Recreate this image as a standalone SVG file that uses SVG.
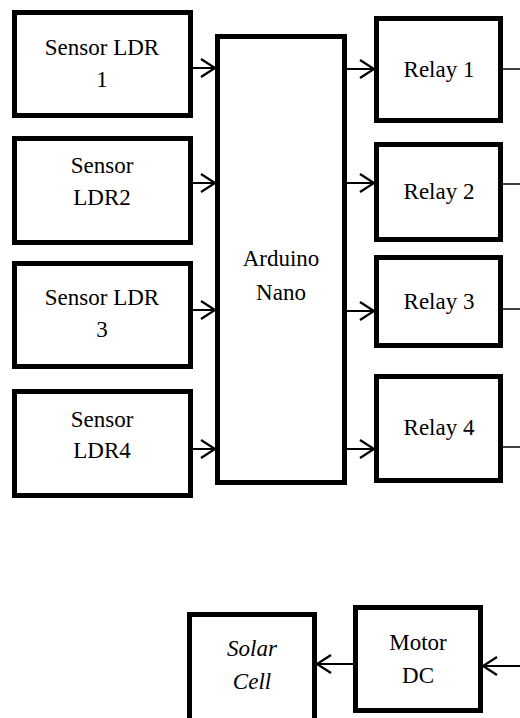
<svg xmlns="http://www.w3.org/2000/svg" width="520" height="718" viewBox="0 0 520 718">
<style>
.box{fill:#fff;stroke:#000;stroke-width:5}
.t{font-family:'Liberation Serif','Times New Roman',serif;font-size:23px;fill:#000;text-anchor:middle}
.i{font-style:italic}
.c{stroke:#000;stroke-width:2;fill:none}
.th{stroke:#000;stroke-width:1.5;fill:none}
</style>
<defs>
<marker id="ah" markerUnits="userSpaceOnUse" markerWidth="20" markerHeight="22" refX="15" refY="10" orient="auto">
<path d="M1,1 L15,10 L1,19" fill="none" stroke="#000" stroke-width="2.2"/>
</marker>
</defs>
<rect width="520" height="718" fill="#fff"/>
<g id="sensor1"><rect class="box" x="14.5" y="12.5" width="176" height="103"/><text class="t" x="102" y="55">Sensor LDR</text><text class="t" x="102" y="87">1</text></g>
<g id="sensor2"><rect class="box" x="14.5" y="138.5" width="176" height="104"/><text class="t" x="102" y="173">Sensor</text><text class="t" x="102" y="205">LDR2</text></g>
<g id="sensor3"><rect class="box" x="14.5" y="263.5" width="176" height="103"/><text class="t" x="102" y="305">Sensor LDR</text><text class="t" x="102" y="337">3</text></g>
<g id="sensor4"><rect class="box" x="14.5" y="391.5" width="176" height="104"/><text class="t" x="102" y="427">Sensor</text><text class="t" x="102" y="458">LDR4</text></g>
<g id="arduino"><rect class="box" x="217.5" y="36.5" width="127" height="446"/><text class="t" x="281" y="266">Arduino</text><text class="t" x="281" y="300">Nano</text></g>
<g id="relay1"><rect class="box" x="376.5" y="18.5" width="124" height="102"/><text class="t" x="439" y="77">Relay 1</text></g>
<g id="relay2"><rect class="box" x="376.5" y="144.5" width="124" height="95"/><text class="t" x="439" y="199">Relay 2</text></g>
<g id="relay3"><rect class="box" x="376.5" y="257.5" width="124" height="88"/><text class="t" x="439" y="309">Relay 3</text></g>
<g id="relay4"><rect class="box" x="376.5" y="376.5" width="124" height="104"/><text class="t" x="439" y="435">Relay 4</text></g>
<g id="solar"><rect class="box" x="189.5" y="614.5" width="125" height="110"/><text class="t i" x="252" y="656">Solar</text><text class="t i" x="252" y="689">Cell</text></g>
<g id="motor"><rect class="box" x="355.5" y="607.5" width="125" height="103"/><text class="t" x="418" y="650">Motor</text><text class="t" x="418" y="683">DC</text></g>
<g id="connectors">
<line class="c" x1="193" y1="68" x2="215" y2="68" marker-end="url(#ah)"/>
<line class="c" x1="193" y1="183" x2="215" y2="183" marker-end="url(#ah)"/>
<line class="c" x1="193" y1="310" x2="215" y2="310" marker-end="url(#ah)"/>
<line class="c" x1="193" y1="449" x2="215" y2="449" marker-end="url(#ah)"/>
<line class="c" x1="347" y1="69" x2="374" y2="69" marker-end="url(#ah)"/>
<line class="c" x1="347" y1="183" x2="374" y2="183" marker-end="url(#ah)"/>
<line class="c" x1="347" y1="311" x2="374" y2="311" marker-end="url(#ah)"/>
<line class="c" x1="347" y1="449" x2="374" y2="449" marker-end="url(#ah)"/>
<line class="th" x1="503" y1="69" x2="520" y2="69"/>
<line class="th" x1="503" y1="184" x2="520" y2="184"/>
<line class="th" x1="503" y1="309" x2="520" y2="309"/>
<line class="th" x1="503" y1="447" x2="520" y2="447"/>
<line class="c" x1="353" y1="664" x2="317" y2="664" marker-end="url(#ah)"/>
<line class="c" x1="520" y1="666" x2="483" y2="666" marker-end="url(#ah)"/>
</g>
</svg>
